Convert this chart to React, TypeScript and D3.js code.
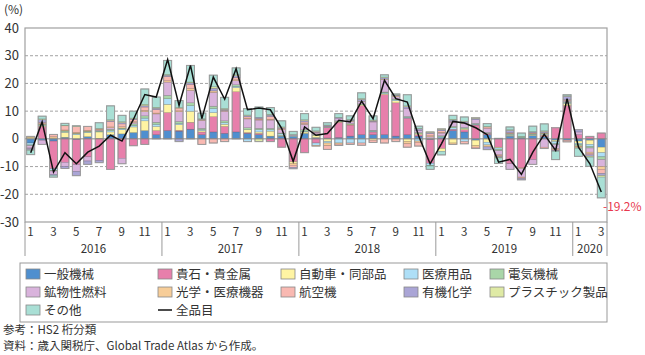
import React from 'react';
import * as d3 from 'd3';

const months = ['1','2','3','4','5','6','7','8','9','10','11','12','1','2','3','4','5','6','7','8','9','10','11','12','1','2','3','4','5','6','7','8','9','10','11','12','1','2','3','4','5','6','7','8','9','10','11','12','1','2','3'];
const years = ['2016', '2017', '2018', '2019', '2020'];
const yearMonths = [12, 12, 12, 12, 3];

const seriesNames = ['一般機械', '貴石・貴金属', '自動車・同部品', '医療用品', '電気機械', '鉱物性燃料', '光学・医療機器', '航空機', '有機化学', 'プラスチック製品', 'その他'];
const seriesColors = ['#4f8fcf', '#e77fab', '#fff4a3', '#aedff7', '#a9d6a8', '#d9b3dc', '#f7cd98', '#f9b9b2', '#aaa5d6', '#dfeaa5', '#a9dfd5'];

const ippan = [-1.5, -0.5, -0.8, 0.6, -0.3, 0.8, 0.2, 1.5, 1.8, 2.3, 3.0, 1.5,
  3.0, 2.8, 3.5, 1.5, 2.5, 2.0, 2.5, 2.0, 1.5, 1.0, 1.0, 0.8,
  2.0, 0.5, 0.3, 0.5, 1.0, 1.5, 1.5, 1.5, 1.0, 1.5, 1.0, -0.3,
  0.5, 3.0, 2.5, -0.5, 1.5, 0.2, 1.0, 0.3, 1.2, 0.8, -0.5, -0.5,
  -0.8, -0.5, -3.0];
const kiseki = [0, 4.5, -10.0, -8.5, -9.0, -6.5, -7.8, -11.0, -7.0, -2.5, -2.0, 1.5,
  6.5, 0.3, 2.5, 1.0, 5.5, 2.5, 14.5, 0.3, 0.5, -1.0, -3.0, -8.3,
  -5.0, -1.5, 3.8, 5.5, 4.0, 10.5, 1.0, 14.5, 12.0, 6.0, 0.5, -8.5,
  -3.5, 0.5, 0.8, 5.0, 0.5, -3.0, -9.0, -10.5, -7.5, 0.5, 4.0, 12.0,
  1.5, 0.9, 2.1];
const jidosha = [0.6, 0.3, 0.3, 1.8, 1.5, 1.5, 2.3, 1.0, 1.5, 2.0, 3.5, 1.5,
  3.0, 2.0, 4.0, 0.5, 1.5, 0.8, 1.5, 1.0, 0.5, 1.8, 0.3, -0.5,
  0.5, 0.8, -1.0, 0.3, 0.3, 0.3, -0.5, 0.3, 0.8, -1.0, 0.5, 0.3,
  -1.0, -1.5, 0.3, -2.0, -1.2, -0.3, 0.3, -0.3, 0.2, 0.3, -0.5, 0.8,
  -0.8, -1.5, -2.0];
const iryo = [-0.7, 0.2, -0.5, 0.2, 0.3, 0.2, 0.2, 0.5, 0.3, 0.6, 1.0, 0.8,
  2.0, 0.5, 2.0, 0.3, 1.5, 0.5, 0.5, -1.0, 0.8, 0.5, 0.5, 0.2,
  0.3, -0.8, -0.5, -1.5, -1.5, -1.5, 0.3, 0.3, 0.3, 0.3, -0.8, -0.8,
  0.3, 0.5, -1.0, 0.3, -1.0, -0.5, 0.3, 0.2, 0.2, 0.2, -0.8, 0.3,
  -0.5, -0.8, -1.5];
const denki = [-0.3, 0.3, -0.3, 0.3, 0.2, 0.3, 0.3, 0.5, 0.3, 0.5, 0.8, 0.7,
  1.2, 0.7, 1.0, 0.5, 0.8, 0.7, 0.5, 0.7, 0.5, 0.5, 0.3, 0.2,
  0.5, 0.3, 0.2, 0.2, 0.2, 0.3, 0.3, 0.3, 0.3, 0.3, 0.3, -0.2,
  0.3, 0.5, 0.5, 0.3, 0.3, -0.5, 0.2, 0.2, 0.2, 0.2, -0.3, 0.3,
  -0.5, -0.5, -1.0];
const kobutsu = [-0.8, -1.5, -1.3, -1.5, -2.5, -1.5, 0.2, 0.5, -2.0, 0.5, 1.5, 3.0,
  4.8, 3.5, 4.5, 2.8, 5.0, 3.5, 1.5, 3.2, 3.0, 3.0, 1.2, 0.3,
  2.0, 0.5, 0.3, 1.0, 0.8, 0.8, 3.0, 4.5, 0.8, 3.0, 0.8, 0.5,
  1.0, 1.5, 1.5, 1.3, 1.5, -1.5, -2.0, -3.0, -1.7, -3.0, -1.5, 0.5,
  1.0, -1.5, -2.5];
const kogaku = [0.3, 0.2, 0.5, 0.3, 0.4, 0.3, 0.3, 0.3, 0.5, 0.3, 0.5, 0.3,
  0.5, 0.3, 0.7, 0.2, 0.5, 0.3, 0.3, 0.3, 0.3, 0.3, 0.2, -0.7,
  0.3, -0.3, -1.0, -0.4, 0.2, 0.2, 0.2, 0.2, 0.3, -0.8, -0.5, 0.3,
  0.3, -0.5, 0.2, -0.5, -0.7, -0.3, 0.2, -0.2, 0.2, 0.2, -0.3, 0.3,
  -0.3, -0.5, -1.0];
const kokuki = [-0.2, 0.5, 0.8, 1.5, 2.0, 1.4, 0.2, 2.0, 1.0, 0.8, 1.2, 1.3,
  1.5, 1.0, 1.5, -2.0, -1.5, -1.0, 0.8, 0.5, 0.3, 1.0, 0.3, -0.8,
  0.5, 0.3, -1.3, -0.5, -0.5, -0.8, -0.8, -1.5, -1.0, -1.2, -1.3, 0.8,
  0.5, 0.3, -0.8, -0.5, 0.5, -0.3, 0.3, -0.3, 0.2, -0.5, -0.3, -0.6,
  -0.3, -0.5, -1.5];
const yuki = [-0.5, 1.0, -0.3, -0.7, -1.5, -1.2, -0.8, 0.3, 0.5, 0.3, 0.5, 0.5,
  0.5, -1.0, 0.5, 0.3, 1.0, 0.4, 0.7, 0.4, 0.4, 0.5, 0.3, -0.5,
  0.5, 0.3, 0.3, 0.2, 0.3, 0.7, 0.3, 0.5, 0.3, 0.5, 0.5, 0.4,
  0.5, 0.5, 0.4, 0.5, -1.0, -0.3, 0.8, -0.5, 0.3, 0.5, -0.2, 1.2,
  0.8, -0.5, -0.8];
const plastic = [-0.2, 0.2, 0, 0.2, 0.2, 0, 0.1, 0.3, 0.3, 0.2, 0.5, 0.3,
  0.3, 0.2, 0.3, 0.2, 0.5, 0.3, 0.3, 0.2, -1.0, 0.3, 0.2, 0.1,
  0.3, 0.2, 0.1, 0.1, 0.2, 0.3, 0.2, 0.2, 0.2, 0.3, 0.2, 0.2,
  0.2, 0.3, 0.2, 0.2, 0.2, -0.2, 0.2, 0.2, 0.1, 0.2, -0.1, 0.2,
  -0.2, -0.3, -0.5];
const sonota = [-1.5, 1.0, -0.6, 0.7, 0.1, 0, 2.0, 5.0, 2.3, 2.5, 5.5, 3.7,
  5.0, 2.5, 6.0, 2.0, 4.2, 4.0, 2.5, 2.3, 3.7, 2.4, 2.2, 1.1,
  2.2, 1.3, 0.8, 1.3, 1.3, 2.0, 1.5, 0.8, 0.2, 4.0, 0.8, -1.2,
  -1.3, 1.4, 1.5, 0.0, 1.0, -2.0, 1.0, 1.2, 2.0, 2.5, -3.0, 0.3,
  -2.9, -3.3, -7.5];
const total = [-5.0, 6.1, -12.0, -5.0, -9.0, -4.8, -2.6, 1.3, -0.8, 7.0, 16.0, 15.1,
  28.6, 12.1, 26.5, 7.3, 22.3, 14.3, 25.3, 10.5, 11.1, 10.5, 3.7, -8.1,
  4.3, 1.3, 1.9, 6.7, 6.1, 13.6, 7.3, 21.1, 14.5, 13.3, 1.0, -9.0,
  -1.7, 6.3, 5.7, 4.0, 1.5, -8.4, -7.4, -12.8, -4.8, 1.6, -4.2, 14.5,
  -3.0, -9.0, -19.2];
const yTicks = [-30, -20, -10, 0, 10, 20, 30, 40];

const seriesValues = [ippan, kiseki, jidosha, iryo, denki, kobutsu, kogaku, kokuki, yuki, plastic, sonota];

const W = 645, H = 355;
const L = 25, R = 607, T = 28, B = 222;
const FONT = '"Noto Sans CJK JP", "Noto Sans", sans-serif';

export default function App() {
  const idx = months.map((_, i) => i);
  const x = d3.scaleBand<number>().domain(idx).range([L, R]).paddingInner(0.3).paddingOuter(0.15);
  const y = d3.scaleLinear().domain([-30, 40]).range([B, T]);
  const rows = idx.map(i => {
    const o: any = { i };
    seriesNames.forEach((k, s) => { o[k] = seriesValues[s][i]; });
    return o;
  });
  const stacked = d3.stack<any>().keys(seriesNames).offset(d3.stackOffsetDiverging)(rows);
  const cx = (i: number) => (x(i) as number) + x.bandwidth() / 2;
  const line = d3.line<number>().x((d, i) => cx(i)).y(d => y(d));
  const bw = x.bandwidth();
  const yearStart: number[] = [];
  let acc = 0;
  yearMonths.forEach(n => { yearStart.push(acc); acc += n; });
  const boundary = (m: number) => m === 0 ? L : m >= months.length ? R : ((x(m - 1) as number) + bw + (x(m) as number)) / 2;

  const legendCols = [26, 158, 281, 404, 490];
  const legendRows = [274, 292, 310];
  const legendItems = seriesNames.map((n, s) => ({ n, c: seriesColors[s], col: s % 5, row: Math.floor(s / 5) }));

  return (
    <svg width={W} height={H} style={{ position: 'absolute', left: 0, top: 0, fontFamily: FONT }}>
      <rect x={0} y={0} width={W} height={H} fill="#fff" />
      {yTicks.filter(t => t !== 0 && t !== 40 && t !== -30).map(t => (
        <line key={t} x1={L} x2={R} y1={y(t)} y2={y(t)} stroke="#8c8c8c" strokeWidth={0.8} strokeDasharray="3,2" />
      ))}
      {stacked.map((ser, s) => (
        <g key={ser.key}>
          {ser.map((d, i) => {
            const y0 = y(d[0]), y1 = y(d[1]);
            const h = Math.abs(y0 - y1);
            if (h < 0.01) return null;
            return <rect key={i} x={x(i)} y={Math.min(y0, y1)} width={bw} height={h}
              fill={seriesColors[s]} stroke={d3.color(seriesColors[s])!.darker(1.3).formatHex()} strokeWidth={0.4} />;
          })}
        </g>
      ))}
      {idx.map(i => {
        const pos = d3.sum(seriesValues, v => Math.max(0, v[i]));
        const neg = d3.sum(seriesValues, v => Math.min(0, v[i]));
        return <rect key={'o' + i} x={x(i)} y={y(pos)} width={bw} height={y(neg) - y(pos)} fill="none" stroke="#9a9a9a" strokeWidth={1} />;
      })}
      <line x1={L} x2={R} y1={y(0)} y2={y(0)} stroke="#888" strokeWidth={1} />
      <rect x={L} y={T} width={R - L} height={B - T} fill="none" stroke="#a0a0a0" strokeWidth={1.2} />
      <path d={line(total) || ''} fill="none" stroke="#111" strokeWidth={1.5} strokeLinejoin="miter" />
      <text x={603} y={211} fill="#e8384f" fontSize={12}>-19.2%</text>
      {yTicks.map(t => (
        <text key={t} x={19} y={y(t) + 4.5} textAnchor="end" fontSize={13} fill="#333">{t}</text>
      ))}
      <text x={4} y={14} fontSize={12} fill="#333">(%)</text>
      {idx.filter(i => i % 2 === 0).map(i => (
        <text key={i} x={cx(i) - 0.5} y={235.5} textAnchor="middle" fontSize={11.5} letterSpacing={-0.6} fill="#333">{months[i]}</text>
      ))}
      {yearStart.map((st, k) => (
        <g key={k}>
          <line x1={boundary(st)} x2={boundary(st)} y1={B} y2={256} stroke="#9a9a9a" strokeWidth={1} />
          <text x={(boundary(st) + boundary(st + yearMonths[k])) / 2} y={253} textAnchor="middle" fontSize={11.5} fill="#333">{years[k]}</text>
        </g>
      ))}
      <line x1={R} x2={R} y1={B} y2={256} stroke="#9a9a9a" strokeWidth={1} />
      <rect x={20} y={263} width={R - 20} height={59} fill="none" stroke="#999" strokeWidth={1} />
      {legendItems.map(it => (
        <g key={it.n}>
          <rect x={legendCols[it.col]} y={legendRows[it.row] - 5} width={14} height={10} fill={it.c} stroke="#888" strokeWidth={0.8} />
          <text x={legendCols[it.col] + 18} y={legendRows[it.row] + 4.5} fontSize={12.5} fill="#333">{it.n}</text>
        </g>
      ))}
      <line x1={legendCols[1]} x2={legendCols[1] + 14} y1={legendRows[2]} y2={legendRows[2]} stroke="#111" strokeWidth={1.5} />
      <text x={legendCols[1] + 18} y={legendRows[2] + 4.5} fontSize={12.5} fill="#333">全品目</text>
      <text x={3} y={334} fontSize={11.5} fill="#333">参考：HS2 桁分類</text>
      <text x={3} y={350} fontSize={11.5} fill="#333">資料：歳入関税庁、Global Trade Atlas から作成。</text>
    </svg>
  );
}
